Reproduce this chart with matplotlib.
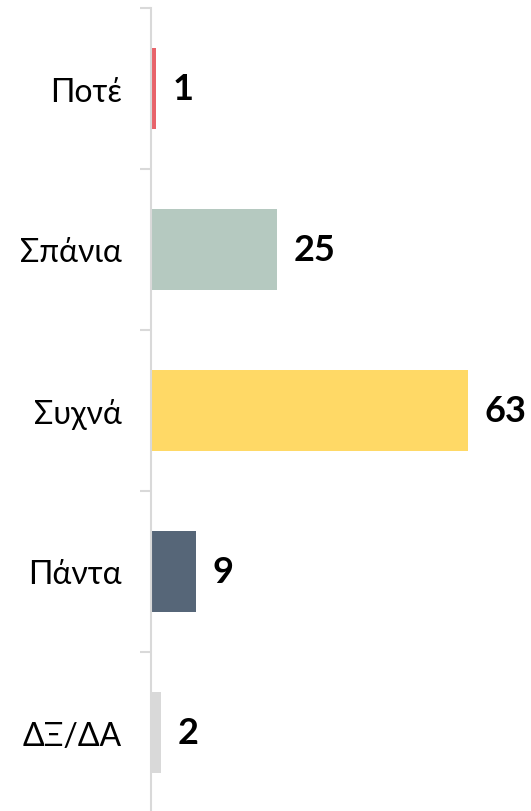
"""horizontal bar chart of answer frequencies"""

import numpy as np
import matplotlib.pyplot as plt

categories = ["Ποτέ", "Σπάνια", "Συχνά", "Πάντα", "ΔΞ/ΔΑ"]
values = [1, 25, 63, 9, 2]
colors = ["#e8636a", "#b5c9c0", "#ffd966", "#566678", "#d9d9d9"]

fig = plt.figure(figsize=(5.31, 8.12), dpi=100)
ax = fig.add_axes([151 / 531, -2 / 812, 380 / 531, 805 / 812])

y_pos = np.arange(len(categories))
rects = ax.barh(y_pos, values, height=0.5, color=colors)
ax.set_ylim(len(categories) - 0.5, -0.5)
ax.set_xlim(0, 380 / 5.03)

# value labels
for rect, v in zip(rects, values):
    ax.text(rect.get_width() + 3.3, rect.get_y() + rect.get_height() / 2,
            str(v), ha="left", va="center", fontsize=26,
            fontweight="bold", family="Lato")

ax.set_yticks(y_pos)
ax.set_yticklabels(categories, fontsize=23, family="Lato")
ax.set_yticks(np.arange(-0.5, len(categories)), minor=True)
ax.tick_params(axis="y", which="major", length=0, pad=21)
ax.tick_params(axis="y", which="minor", length=8, width=1.5, color="#d9d9d9")
ax.set_xticks([])

for side in ["top", "right", "bottom"]:
    ax.spines[side].set_visible(False)
ax.spines["left"].set_color("#d9d9d9")
ax.spines["left"].set_linewidth(1.5)
ax.patch.set_alpha(0)

fig.savefig("out.png", dpi=100)
